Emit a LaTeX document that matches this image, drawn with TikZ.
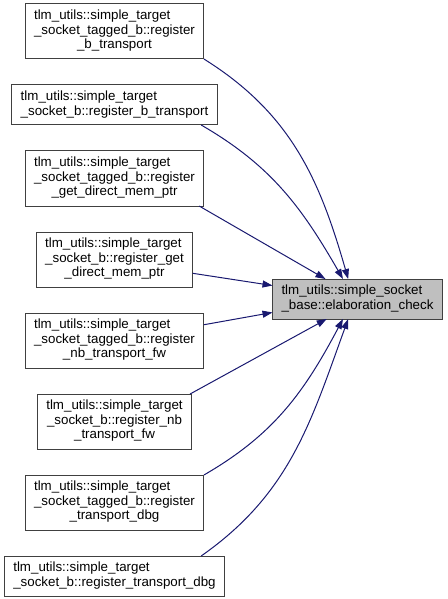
\documentclass[tikz,border=0pt]{standalone}
\usepackage{fontspec}
\setmainfont{Liberation Sans}
\usetikzlibrary{arrows.meta}
\definecolor{myborder}{HTML}{404040}
\definecolor{mygray}{HTML}{BFBFBF}
\definecolor{myblue}{HTML}{191970}
% first line flush left, the others centred
\newcommand{\fnlabel}[2]{\begin{tabular}{@{}c@{}}\multicolumn{1}{@{}l@{}}{#1}\\#2\end{tabular}}
\tikzset{
	defaultnode/.style={
			draw=myborder,
			line width=0.75pt,
			fill=white,
			font=\fontsize{10}{10.9}\selectfont,
			inner xsep=6.75pt,
			inner ysep=0pt,
			outer sep=0pt,
			minimum height=30pt
		},
	tallnode/.style={
			defaultnode,
			minimum height=41.25pt
		},
	rootnode/.style={
			defaultnode,
			fill=mygray
		},
	calledge/.style={
			draw=myblue,
			line width=0.75pt,
			-{Triangle[length=7.5pt, width=5.25pt]}
		}
}
\begin{document}
\begin{tikzpicture}[x=0.75pt, y=0.75pt]
				\useasboundingbox (0,0) rectangle (448,-599);

				\node[rootnode] (root) at (357.5,-299) {\fnlabel{tlm\_utils::simple\_socket}{\_base::elaboration\_check}};

				\node[tallnode] (b1) at (114.5,-31.5) {\fnlabel{tlm\_utils::simple\_target}{\_socket\_tagged\_b::register\\\_b\_transport}};
				\node[defaultnode] (b2) at (114.5,-105) {\fnlabel{tlm\_utils::simple\_target}{\_socket\_b::register\_b\_transport}};
				\node[tallnode] (b3) at (114.5,-178.5) {\fnlabel{tlm\_utils::simple\_target}{\_socket\_tagged\_b::register\\\_get\_direct\_mem\_ptr}};
				\node[tallnode] (b4) at (114.5,-259.5) {\fnlabel{tlm\_utils::simple\_target}{\_socket\_b::register\_get\\\_direct\_mem\_ptr}};
				\node[tallnode] (b5) at (114.5,-340.5) {\fnlabel{tlm\_utils::simple\_target}{\_socket\_tagged\_b::register\\\_nb\_transport\_fw}};
				\node[tallnode] (b6) at (114.5,-421.5) {\fnlabel{tlm\_utils::simple\_target}{\_socket\_b::register\_nb\\\_transport\_fw}};
				\node[tallnode] (b7) at (114.5,-502.5) {\fnlabel{tlm\_utils::simple\_target}{\_socket\_tagged\_b::register\\\_transport\_dbg}};
				\node[defaultnode] (b8) at (114.5,-576) {\fnlabel{tlm\_utils::simple\_target}{\_socket\_b::register\_transport\_dbg}};

				\draw[calledge] (b1.south east) to[out=-32, in=106] (root.115);
				\draw[calledge] (b2.-13) to[out=-30, in=120] (root.126);
				\draw[calledge] (b3.-18) -- (root.148);
				\draw[calledge] (b4.-10) -- (root.171);
				\draw[calledge] (b5.10) -- (root.189);
				\draw[calledge] (b6.20) -- (root.213);
				\draw[calledge] (b7.north east) to[out=30, in=-118] (root.234);
				\draw[calledge] (b8.13) to[out=35, in=-110] (root.245);
			\end{tikzpicture}
\end{document}
